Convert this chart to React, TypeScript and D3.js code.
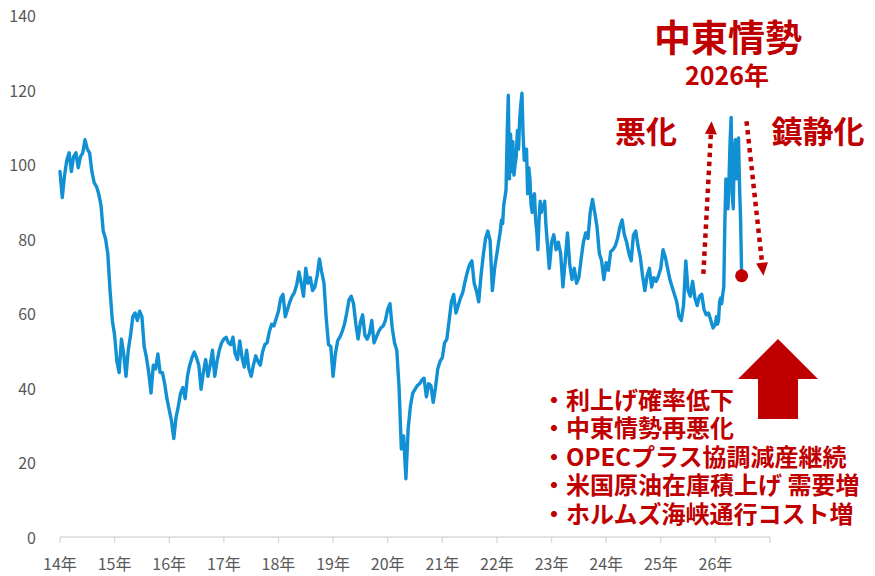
import React from 'react';
import * as d3 from 'd3';

const W = 875;
const H = 576;

// axis labels
const yTicks = [0, 20, 40, 60, 80, 100, 120, 140];
const xYears = [2014, 2015, 2016, 2017, 2018, 2019, 2020, 2021, 2022, 2023, 2024, 2025, 2026];
const xLabels = ['14年', '15年', '16年', '17年', '18年', '19年', '20年', '21年', '22年', '23年', '24年', '25年', '26年'];

// crude oil price (values spread evenly through each year)
const p2014 = [98, 91, 97, 101, 103, 98, 102, 103, 99, 102, 103, 106.5, 104, 103, 98, 95, 94, 92, 89, 82, 80, 76, 66, 58];
const p2015 = [54, 47, 44, 53, 49, 43, 50, 54, 59, 60, 58, 60.5, 59, 51, 48, 44, 38.5, 46, 45, 49, 44, 44, 41, 37];
const p2016 = [34, 31, 26.3, 32, 35, 38.5, 40, 37, 43, 46, 48, 49.5, 48, 46, 39.5, 44, 47.5, 43, 46, 50, 43, 47, 50, 52];
const p2017 = [53, 53.5, 52, 51.5, 53.5, 49, 47.5, 52.5, 48, 45.5, 50, 45, 43, 46, 48.5, 47, 46, 49.5, 51.5, 52, 55, 57, 56.5, 58.5];
const p2018 = [60.5, 64, 65, 59, 61, 63, 64.5, 65.5, 67.5, 71, 68, 64.5, 72, 68, 69.5, 66, 67, 70, 74.5, 71, 68, 58.5, 51.5, 51];
const p2019 = [43, 49, 52.5, 53.5, 55, 57, 60, 63.5, 64.5, 62.5, 57, 53, 57.5, 59.5, 54, 53, 54.5, 58, 52, 53.5, 55, 56, 56.5, 58];
const p2020 = [61, 62.5, 56, 52, 50, 40, 23.5, 27, 15.5, 29, 35, 38.5, 39.5, 40.5, 41, 42, 42.5, 37.5, 41, 40.5, 36, 40, 45, 47];
const p2021 = [48, 52, 53, 58, 63, 65, 60, 62, 64, 65.5, 68.5, 71, 73, 74, 68, 66, 63, 70, 75.5, 80, 82, 79.5, 66, 72];
const p2022 = [
  76, 78, 80, 82, 85, 84, 89, 91, 93, 108, 118.5, 96, 108, 98, 106, 97, 100, 102, 109, 104, 112, 116, 119, 108,
  101, 104, 104, 92, 99, 96, 89, 87, 91, 92, 85, 82, 77, 85, 90, 87, 89, 88, 90, 84, 80, 76, 72, 75,
];
const p2023 = [79, 81, 77, 79, 76, 67, 74, 81.5, 73, 69, 72, 68, 69.5, 74.5, 79, 81.5, 80, 87, 90.5, 87, 83, 76, 74, 69];
const p2024 = [73.5, 71.5, 76.5, 77, 78, 80, 83, 85, 81, 79, 76, 74, 81, 82, 78, 75, 70, 66, 70, 72, 67, 69.5, 68.5, 70];
const p2025 = [72, 77, 75, 72, 69, 67, 65, 63, 59, 58, 62, 74, 66, 64.5, 68.5, 64, 62, 64.5, 65, 61, 59.5, 60, 58, 56];
const p2026 = [57, 59, 57, 58, 63, 64, 62.5, 65, 67, 84, 96, 92, 88, 96, 106, 112.5, 92, 88, 104, 106.5, 96, 100, 107, 94, 85, 70];

const seriesByYear = [p2014, p2015, p2016, p2017, p2018, p2019, p2020, p2021, p2022, p2023, p2024, p2025, p2026];
const samplesPerYear = [24, 24, 24, 24, 24, 24, 24, 24, 48, 24, 24, 24, 52];

// annotation texts
const headline = '中東情勢';
const headlineYear = '2026年';
const worsenLabel = '悪化';
const calmLabel = '鎮静化';
const bullets = ['利上げ確率低下', '中東情勢再悪化', 'OPECプラス協調減産継続', '米国原油在庫積上げ 需要増', 'ホルムズ海峡通行コスト増'];

// dotted arrows given in chart units [year, value]
const upArrow: [number, number][] = [[2025.78, 70.5], [2025.93, 111.5]];
const downArrow: [number, number][] = [[2026.57, 111.5], [2026.88, 70]];

const RED = '#c00000';
const BLUE = '#1190d4';
const FONT = '"Noto Sans CJK JP", "Noto Sans", sans-serif';

const DottedArrow: React.FC<{ from: [number, number]; to: [number, number] }> = ({ from, to }) => {
  const dx = to[0] - from[0];
  const dy = to[1] - from[1];
  const len = Math.sqrt(dx * dx + dy * dy);
  const ux = dx / len, uy = dy / len;
  const headLen = 13, headHalf = 6;
  const bx = to[0] - ux * headLen, by = to[1] - uy * headLen;
  const px = -uy, py = ux;
  const head = [
    [to[0], to[1]],
    [bx + px * headHalf, by + py * headHalf],
    [bx - px * headHalf, by - py * headHalf],
  ].map((p) => p.join(',')).join(' ');
  return (
    <g>
      <line x1={from[0]} y1={from[1]} x2={bx} y2={by} stroke={RED} strokeWidth={4.5} strokeDasharray="4.5 4.5" />
      <polygon points={head} fill={RED} />
    </g>
  );
};

const App: React.FC = () => {
  const x = d3.scaleLinear().domain([2014, 2027]).range([60, 770]);
  const y = d3.scaleLinear().domain([0, 140]).range([536.5, 15]);

  const points: [number, number][] = [];
  seriesByYear.forEach((vals, k) => {
    const n = samplesPerYear[k];
    vals.forEach((v, i) => points.push([xYears[k] + i / n, v]));
  });
  const last = points[points.length - 1];

  const line = d3.line<[number, number]>()
    .x((d) => x(d[0]))
    .y((d) => y(d[1]));

  const axisY = y(0) + 0.5;
  const tickYears = d3.range(2014, 2028);

  const toPx = (p: [number, number]): [number, number] => [x(p[0]), y(p[1])];

  // block arrow (decoration), tip at top
  const bx = 778, by = 339;
  const blockArrow = `M${bx},${by} L${bx + 40},${by + 40} L${bx + 20},${by + 40} L${bx + 20},${by + 80} L${bx - 20},${by + 80} L${bx - 20},${by + 40} L${bx - 40},${by + 40} Z`;

  return (
    <svg width={W} height={H} style={{ position: 'absolute', left: 0, top: 0, background: '#fff' }} fontFamily={FONT}>
      {/* y labels */}
      {yTicks.map((t) => (
        <text key={t} x={36} y={y(t)} textAnchor="end" dominantBaseline="central" fontSize={16} fill="#595959">
          {t}
        </text>
      ))}

      {/* x axis */}
      <line x1={x(2014)} x2={x(2027)} y1={axisY} y2={axisY} stroke="#d9d9d9" strokeWidth={1.3} />
      {tickYears.map((t) => (
        <line key={t} x1={x(t)} x2={x(t)} y1={axisY} y2={axisY + 6} stroke="#d9d9d9" strokeWidth={1.3} />
      ))}
      {xYears.map((t, i) => (
        <text key={t} x={x(t)} y={563} textAnchor="middle" dominantBaseline="central" fontSize={16} fill="#595959">
          {xLabels[i]}
        </text>
      ))}

      {/* price line */}
      <path d={line(points) ?? ''} fill="none" stroke={BLUE} strokeWidth={3.4} strokeLinejoin="round" strokeLinecap="round" />
      <circle cx={x(last[0])} cy={y(last[1])} r={6.5} fill={RED} />

      {/* dotted arrows */}
      <DottedArrow from={toPx(upArrow[0])} to={toPx(upArrow[1])} />
      <DottedArrow from={toPx(downArrow[0])} to={toPx(downArrow[1])} />

      {/* headline */}
      <text x={728} y={36} textAnchor="middle" dominantBaseline="central" fontSize={37} fontWeight={700} fill={RED}>
        {headline}
      </text>
      <text x={727} y={74} textAnchor="middle" dominantBaseline="central" fontSize={25} fontWeight={700} fill={RED}>
        {headlineYear}
      </text>
      <text x={646} y={129} textAnchor="middle" dominantBaseline="central" fontSize={31} fontWeight={700} fill={RED}>
        {worsenLabel}
      </text>
      <text x={818} y={129} textAnchor="middle" dominantBaseline="central" fontSize={31} fontWeight={700} fill={RED}>
        {calmLabel}
      </text>

      {/* block arrow */}
      <path d={blockArrow} fill={RED} />

      {/* bullet list */}
      {bullets.map((b, i) => (
        <text key={b} x={542} y={398 + i * 28.5} dominantBaseline="central" fontSize={24} fontWeight={700} fill={RED}>
          {'・' + b}
        </text>
      ))}
    </svg>
  );
};

export default App;
